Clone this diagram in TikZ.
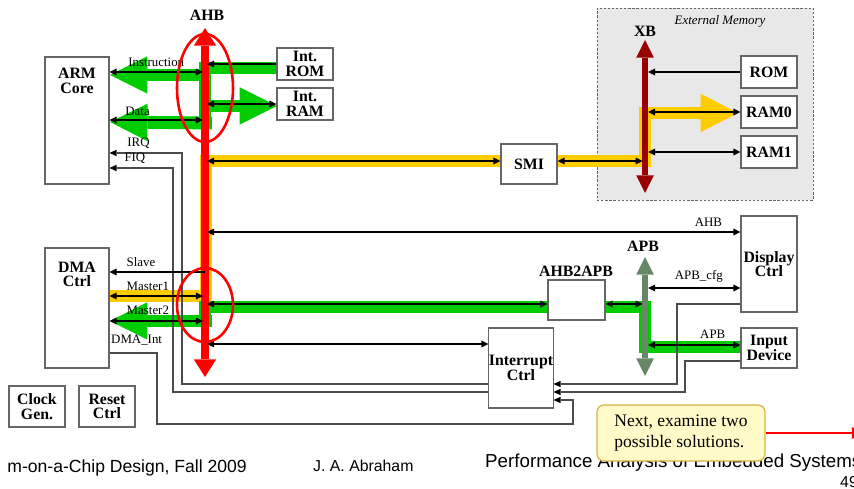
\documentclass[tikz,border=0pt]{standalone}
\usepackage{fontspec}
\setmainfont{Liberation Serif}
\newfontfamily\footfont{Liberation Sans}
\usetikzlibrary{arrows.meta, positioning}

\definecolor{busred}{RGB}{255,0,0}
\definecolor{xbred}{RGB}{153,0,0}
\definecolor{apbgreen}{RGB}{102,136,102}
\definecolor{flowgreen}{RGB}{0,204,0}
\definecolor{flowyellow}{RGB}{255,204,0}
\definecolor{notefill}{RGB}{255,250,200}
\definecolor{noteedge}{RGB}{214,178,72}
\definecolor{memfill}{RGB}{232,232,232}

\tikzset{
    % Block styles
    box/.style={rectangle, draw=black!60, line width=0.9pt, fill=white, inner sep=0pt,
                align=center, font=\bfseries\fontsize{13.5}{12.5}\selectfont},
    title/.style={font=\bfseries\fontsize{13.5}{12.5}\selectfont, align=center, inner sep=0pt},
    small/.style={font=\fontsize{11}{12}\selectfont, inner sep=1pt},
    note/.style={rectangle, rounded corners=6pt, draw=noteedge, fill=notefill, line width=1pt,
                 minimum width=5.04cm, minimum height=1.68cm, align=left,
                 font=\fontsize{15}{18}\selectfont},
    foot/.style={font=\footfont, inner sep=0pt},
    % Arrow styles
    arrow/.style={-{Triangle[length=6pt,width=5.5pt]}, line width=1.2pt},
    biarrow/.style={{Triangle[length=6pt,width=5.5pt]}-{Triangle[length=6pt,width=5.5pt]}, line width=1.2pt},
    wire/.style={draw=black!70, line width=0.9pt},
    wire arrow/.style={wire, -{Triangle[length=6pt,width=5.5pt,line width=0pt,color=black]}},
    % Bus and flow styles
    ahb bus/.style={busred, line width=6pt,
        {Triangle[length=15pt,width=19pt,line width=0pt]}-{Triangle[length=15pt,width=19pt,line width=0pt]}},
    side bus/.style={line width=5pt,
        {Triangle[length=15pt,width=15pt,line width=0pt]}-{Triangle[length=15pt,width=15pt,line width=0pt]}},
    band/.style={line width=11pt},
    fat arrow/.style={band, -{Triangle[length=32pt,width=32pt,line width=0pt]}},
}

\begin{document}
\begin{tikzpicture}[x=0.03cm, y=-0.03cm]
    \useasboundingbox (0,0) rectangle (854,489);

    % External memory area
    \node[draw=black!60, dash pattern=on 2pt off 1.5pt, fill=memfill, minimum width=6.48cm, minimum height=5.76cm] (ext) at (705,104) {};
    \node[small, font=\itshape\fontsize{11}{12}\selectfont] (extlbl) at (720,21) {External Memory};

    % Bus end points
    \coordinate (ahbtop) at (205,28);
    \coordinate (ahbbot) at (205,377);
    \coordinate (xbtop) at (645,40);
    \coordinate (xbbot) at (645,193);
    \coordinate (apbtop) at (645,257);
    \coordinate (apbbot) at (645,376);

    % Yellow flow
    \draw[band, flowyellow, -{Triangle[length=32pt,width=33pt,line width=0pt]}]
        (110,296) -- (206,296) -- (206,161) -- (645,161) -- (645,113) -- (738,113);

    % Green flows
    \draw[band, flowgreen] (277,68) -- (205,68) -- (205,123);
    \draw[fat arrow, flowgreen] (205,75) -- (110,75);
    \draw[fat arrow, flowgreen] (212,123) -- (110,122);
    \draw[fat arrow, flowgreen] (205,106) -- (277,106);
    \draw[fat arrow, flowgreen] (212,321) -- (110,321);
    \draw[band, flowgreen] (205,321) -- (205,307) -- (645,307) -- (645,347) -- (741,347);

    % Buses
    \draw[ahb bus] (ahbtop) -- (ahbbot);
    \draw[side bus, xbred] (xbtop) -- (xbbot);
    \draw[side bus, apbgreen] (apbtop) -- (apbbot);
    \node[title] (ahblbl) at (207,15) {AHB};
    \node[title] (xblbl) at (645,31) {XB};
    \node[title] (apblbl) at (643,246) {APB};

    % Blocks
    \node[box, minimum width=1.92cm, minimum height=3.81cm,
          label={[title, anchor=north, yshift=-10pt]north:ARM\\Core}] (arm) at (77,120.5) {};
    \node[box, minimum width=1.92cm, minimum height=3.6cm,
          label={[title, anchor=north, yshift=-12pt]north:DMA\\Ctrl}] (dma) at (77,308) {};
    \node[box, minimum width=1.68cm, minimum height=0.96cm] (irom) at (305,64) {Int.\\ROM};
    \node[box, minimum width=1.68cm, minimum height=0.96cm] (iram) at (305,104) {Int.\\RAM};
    \node[box, minimum width=1.68cm, minimum height=1.2cm] (smi) at (529,164) {SMI};
    \node[box, minimum width=1.68cm, minimum height=0.96cm] (rom) at (769,72) {ROM};
    \node[box, minimum width=1.68cm, minimum height=0.96cm] (ram0) at (769,112) {RAM0};
    \node[box, minimum width=1.68cm, minimum height=0.96cm] (ram1) at (769,152) {RAM1};
    \node[box, minimum width=1.68cm, minimum height=2.88cm] (disp) at (769,264) {Display\\Ctrl};
    \node[box, minimum width=1.68cm, minimum height=1.2cm] (inp) at (769,348) {Input\\Device};
    \node[box, minimum width=1.71cm, minimum height=1.2cm] (a2a) at (576.5,300) {};
    \node[title] (a2albl) at (576,271) {AHB2APB};
    \node[box, minimum width=1.68cm, minimum height=2.4cm] (intc) at (521,368) {Interrupt\\Ctrl};
    \node[box, minimum width=1.68cm, minimum height=1.23cm] (clk) at (37,406.5) {Clock\\Gen.};
    \node[box, minimum width=1.68cm, minimum height=1.23cm] (rst) at (107,406.5) {Reset\\Ctrl};

    % Interrupt wires
    \coordinate (irq) at (182,153);
    \coordinate (irqlow) at (182,384);
    \coordinate (fiq) at (173,168);
    \coordinate (fiqlow) at (173,392);
    \draw[wire arrow] (irqlow -| intc.west) -- (irqlow) -- (irq)
        -- node[small, above=2pt, pos=.6] (lirq) {IRQ} (irq -| arm.east);
    \draw[wire arrow] (fiqlow -| intc.west) -- (fiqlow) -- (fiq)
        -- node[small, above=2pt, pos=.6] (lfiq) {FIQ} (fiq -| arm.east);
    \coordinate (dint) at (157,353);
    \coordinate (dintlow) at (157,424);
    \coordinate (dintr) at (573,424);
    \coordinate (dintup) at (573,400);
    \draw[wire arrow] (dint -| dma.east) node[small, anchor=south west, yshift=5pt] (ldint) {DMA\_Int}
        -- (dint) -- (dintlow) -- (dintr) -- (dintup) -- (dintup -| intc.east);
    \coordinate (dspq) at (677,304);
    \coordinate (dspqlow) at (677,384);
    \draw[wire arrow] (dspq -| disp.west) -- (dspq) -- (dspqlow) -- (dspqlow -| intc.east);
    \coordinate (inq) at (685,361);
    \coordinate (inqlow) at (685,392);
    \draw[wire arrow] (inq -| inp.west) -- (inq) -- (inqlow) -- (inqlow -| intc.east);

    % AHB connections
    \coordinate (pI) at (203,72);
    \coordinate (pD) at (203,120);
    \coordinate (pR) at (207,64);
    \coordinate (pM) at (207,104);
    \draw[biarrow] (pI -| arm.east) -- node[small, above=3pt] (linstr) {Instruction} (pI);
    \draw[biarrow] (pD -| arm.east) -- node[small, above=2pt, pos=.3] (ldata) {Data} (pD);
    \draw[arrow] (pR -| irom.west) -- (pR);
    \draw[biarrow] (pM) -- (pM -| iram.west);
    \coordinate (pSm) at (207,161);
    \draw[biarrow] (pSm) -- (pSm -| smi.west);
    \draw[biarrow] (pSm -| smi.east) -- ([xshift=-2pt]pSm -| xbtop);
    \coordinate (pDisp) at (207,232);
    \draw[biarrow] (pDisp) -- node[small, above=3pt, pos=.94] (lahb) {AHB} (pDisp -| disp.west);
    \coordinate (pS) at (205,272);
    \draw[arrow] (pS) -- node[small, above=3pt, pos=.67] (lslave) {Slave} (pS -| dma.east);
    \coordinate (pM1) at (203,296);
    \draw[biarrow] (pM1 -| dma.east) -- node[small, above=3pt, pos=.41] (lm1) {Master1} (pM1);
    \coordinate (pM2) at (203,321);
    \draw[biarrow] (pM2 -| dma.east) -- node[small, above=4pt, pos=.41] (lm2) {Master2} (pM2);
    \coordinate (pA) at (207,304);
    \draw[biarrow] (pA) -- (pA -| a2a.west);
    \draw[biarrow] (pA -| a2a.east) -- ([xshift=-2pt]pA -| apbtop);
    \coordinate (pInt) at (207,344);
    \draw[biarrow] (pInt) -- (pInt -| intc.west);

    % APB and XB connections
    \coordinate (pC) at (648,288);
    \draw[biarrow] (pC) -- node[small, above=3pt, pos=.55] (lcfg) {APB\_cfg} (pC -| disp.west);
    \coordinate (pIn) at (648,345);
    \draw[biarrow] (pIn) -- node[small, above=4pt, pos=.7] (lapb) {APB} (pIn -| inp.west);
    \coordinate (pXr) at (648,72);
    \draw[arrow] (pXr -| rom.west) -- (pXr);
    \coordinate (pX0) at (648,112);
    \draw[biarrow] (pX0) -- (pX0 -| ram0.west);
    \coordinate (pX1) at (648,152);
    \draw[biarrow] (pX1) -- (pX1 -| ram1.west);

    % Highlight rings
    \draw[busred, line width=2.2pt] (205,88) ellipse [x radius=28, y radius=54];
    \draw[busred, line width=2.2pt] (205,305) ellipse [x radius=28, y radius=37];

    % Footer
    \node[foot, anchor=base east, font=\footfont\fontsize{15}{16}\selectfont] (course) at (247,473) {m-on-a-Chip Design, Fall 2009};
    \node[foot, anchor=base west, font=\footfont\fontsize{13.5}{15}\selectfont] (author) at (313,472) {J. A. Abraham};
    \node[foot, anchor=base west, font=\footfont\fontsize{16}{17}\selectfont] (topic) at (485,468) {Performance Analysis of Embedded Systems};
    \node[foot, anchor=base west, font=\footfont\fontsize{13.5}{15}\selectfont] (page) at (840,488) {49};

    % Callout
    \node[note] (next) at (681,433) {Next, examine two\\possible solutions.};
    \coordinate (offpage) at (866,433);
    \draw[busred, line width=2.2pt, -{Triangle[length=12pt,width=10pt,line width=0pt]}] (next) -- (offpage);
\end{tikzpicture}
\end{document}
